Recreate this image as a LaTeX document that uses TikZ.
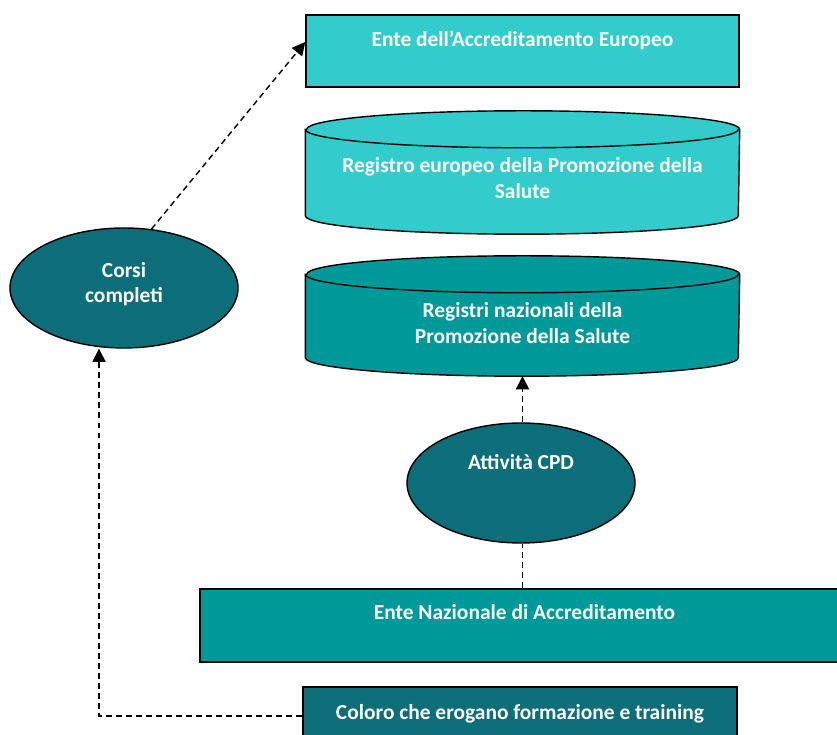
\documentclass[tikz,border=0pt]{standalone}
\usepackage{fontspec}
\setmainfont{Carlito}
\usepackage{tikz}
\usetikzlibrary{shapes.geometric}
\usetikzlibrary{arrows.meta}
\usetikzlibrary{backgrounds}

\definecolor{tealLight}{RGB}{51,204,204}
\definecolor{tealMid}{RGB}{0,153,153}
\definecolor{tealDark}{RGB}{11,110,121}

\tikzset{
  box/.style={draw=black, line width=0.8pt, text=white, font=\bfseries\fontsize{12.2}{14.7}\selectfont, align=center, inner sep=0pt},
  rectbox/.style={box, rectangle},
  drumbox/.style={box, rectangle, draw=none, minimum width=8.66cm},
  drum/.style={draw=black, line width=0.8pt},
  ovalbox/.style={box, ellipse, fill=tealDark, minimum width=4.56cm, minimum height=2.4cm},
  link/.style={black, line width=0.8pt, dash pattern=on 3.4pt off 2.3pt},
  linkarrow/.style={link, arrows={-Triangle[length=7.5pt, width=7.5pt]}},
}

\begin{document}
\begin{tikzpicture}
\useasboundingbox (0, 0) rectangle (16.74, 14.70);
\node[rectbox, fill=tealLight, minimum width=8.66cm, minimum height=1.44cm, text height=0.3cm, text depth=0.48cm] (euente) at (10.45, 13.68) {Ente dell'Accreditamento Europeo};
\node[drumbox, minimum height=1.70cm, text height=1.1cm, text depth=0.06cm] (regeu) at (10.45, 11.25) {Registro europeo della Promozione della\\Salute};
\node[drumbox, minimum height=1.64cm, text height=1.14cm, text depth=0.04cm] (regnaz) at (10.45, 8.38) {Registri nazionali della\\Promozione della Salute};
\node[ovalbox, text height=0.8cm, text depth=0.2cm] (corsi) at (2.48, 8.94) {Corsi\\completi};
\node[ovalbox, text height=0.3cm, text depth=0.84cm] (cpd) at (10.42, 5.04) {Attività CPD};
\node[rectbox, fill=tealMid, minimum width=12.98cm, minimum height=1.46cm, text height=0.3cm, text depth=0.54cm] (naz) at (10.49, 2.19) {Ente Nazionale di Accreditamento};
\node[rectbox, fill=tealDark, minimum width=8.68cm, minimum height=1.16cm, text height=0.3cm, text depth=0.16cm] (coloro) at (10.40, 0.38) {Coloro che erogano formazione e training};
% drums behind the register texts
\begin{scope}[on background layer]
\path[drum, fill=tealLight] (regeu.north west) -- (regeu.south west) arc[start angle=180, end angle=360, x radius=4.33cm, y radius=0.37cm] -- (regeu.north east) arc[start angle=0, end angle=180, x radius=4.33cm, y radius=0.37cm] -- cycle;
\draw[drum] (regeu.north west) arc[start angle=180, end angle=360, x radius=4.33cm, y radius=0.37cm];
\path[drum, fill=tealMid] (regnaz.north west) -- (regnaz.south west) arc[start angle=180, end angle=360, x radius=4.33cm, y radius=0.37cm] -- (regnaz.north east) arc[start angle=0, end angle=180, x radius=4.33cm, y radius=0.37cm] -- cycle;
\draw[drum] (regnaz.north west) arc[start angle=180, end angle=360, x radius=4.33cm, y radius=0.37cm];
\end{scope}
% connectors
\draw[linkarrow] (corsi.65) -- ([yshift=1.8mm]euente.west);
\draw[linkarrow] (cpd.north -| regnaz.south) -- ([yshift=-0.37cm]regnaz.south);
\draw[link] (naz.north -| regnaz.south) -- (cpd.south -| regnaz.south);
\draw[linkarrow] (coloro.west) -| ([xshift=-5mm]corsi.south);
\end{tikzpicture}
\end{document}
